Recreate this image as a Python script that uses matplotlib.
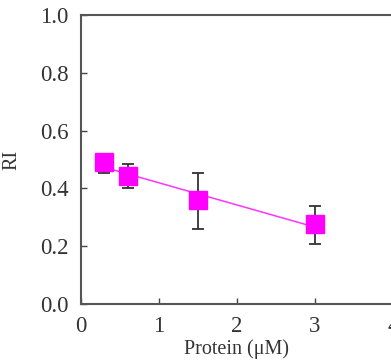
import matplotlib.pyplot as plt
import numpy as np

plt.rcParams['font.family'] = ['Liberation Serif', 'DejaVu Serif']

# datos
proteina = [0.3, 0.6, 1.5, 3.0]
ri = [0.49, 0.444, 0.36, 0.276]
error_inf = [0.035, 0.043, 0.1, 0.067]
error_sup = [0.01, 0.04, 0.094, 0.064]

fig = plt.figure(figsize=(3.91, 3.64), dpi=100)
ax = fig.add_axes([81 / 391, 60 / 364, 312 / 391, 289 / 364])

# recta de ajuste lineal
m, b = np.polyfit(proteina, ri, 1)
xl = np.array([proteina[0], proteina[-1]])
ax.plot(xl, m * xl + b, color='#ff33ff', lw=1.1, zorder=2)

ax.errorbar(proteina, ri, yerr=[error_inf, error_sup], fmt='none', ecolor='#333333',
            elinewidth=1.3, capsize=4.5, capthick=1.3, zorder=3)
ax.plot(proteina, ri, 's', color='#ff00ff', markersize=12.5, zorder=4)

ax.set_xlim(0, 4)
ax.set_ylim(0, 1.0)
ax.set_xticks([0, 1, 2, 3, 4])
ax.set_yticks([0.0, 0.2, 0.4, 0.6, 0.8, 1.0])
ax.set_yticklabels(['0.0', '0.2', '0.4', '0.6', '0.8', '1.0'])
ax.tick_params(direction='in', length=4, width=1, color='#444444',
               labelsize=16.5, labelcolor='#333333', pad=9)
ax.tick_params(axis='y', pad=9)

for lado in ['left', 'bottom', 'top']:
    ax.spines[lado].set_color('#555555')
    ax.spines[lado].set_linewidth(1.5)
ax.spines['right'].set_color('#cccccc')

ax.set_xlabel('Protein (\u03bcM)', fontsize=14.5, color='#333333', labelpad=1)
ax.set_ylabel('RI', fontsize=14.5, color='#333333', labelpad=13)

fig.savefig('out.png', dpi=100)
